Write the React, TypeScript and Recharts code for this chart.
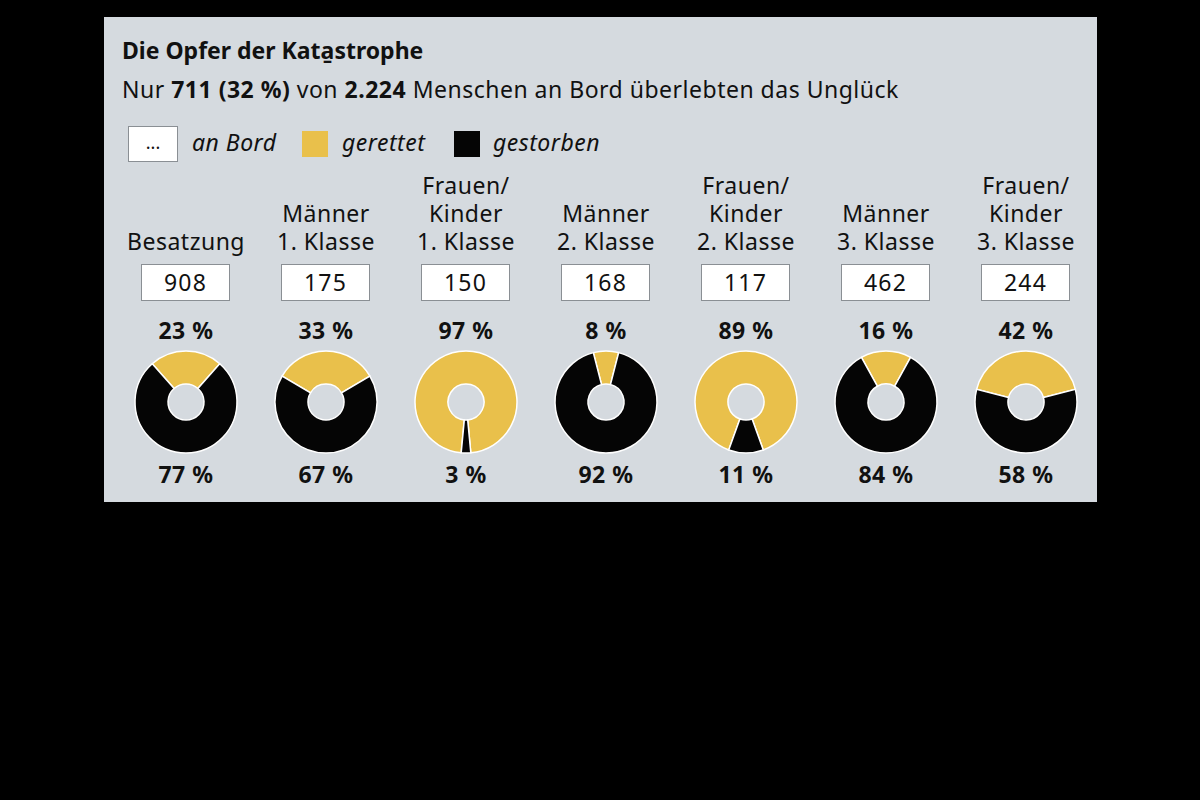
import { Cell, Pie, PieChart } from 'recharts';

const groupLabels: string[][] = [
  ['Besatzung'],
  ['Männer', '1. Klasse'],
  ['Frauen/', 'Kinder', '1. Klasse'],
  ['Männer', '2. Klasse'],
  ['Frauen/', 'Kinder', '2. Klasse'],
  ['Männer', '3. Klasse'],
  ['Frauen/', 'Kinder', '3. Klasse'],
];
const aboard = [908, 175, 150, 168, 117, 462, 244];
const savedPct = [23, 33, 97, 8, 89, 16, 42];
const diedPct = [77, 67, 3, 92, 11, 84, 58];

const YELLOW = '#e9c04b';
const BLACK = '#050505';
const PANEL = '#d5dadf';
const FONT = '"Noto Sans", "Open Sans", sans-serif';

const PANEL_W = 993;
const PANEL_H = 485;
const COL0 = 82;
const COL_STEP = 140;
const DONUT_Y = 385;

function App() {
  return (
    <div style={{ position: 'absolute', left: 0, top: 0, width: 1200, height: 800, background: '#000' }}>
      <div
        style={{
          position: 'absolute',
          left: 104,
          top: 17,
          width: PANEL_W,
          height: PANEL_H,
          background: PANEL,
          fontFamily: FONT,
          color: '#111',
        }}
      >
        <div style={{ position: 'absolute', left: 18, top: 17, fontSize: 23, fontWeight: 700 }}>
          Die Opfer der Kata̱strophe
        </div>
        <div style={{ position: 'absolute', left: 18, top: 56, fontSize: 23, letterSpacing: 0.5 }}>
          Nur <b>711 (32 %)</b> von <b>2.224</b> Menschen an Bord überlebten das Unglück
        </div>

        {/* legend */}
        <div
          style={{
            position: 'absolute',
            left: 24,
            top: 109,
            width: 48,
            height: 34,
            background: '#fff',
            border: '1px solid #8a8f94',
            textAlign: 'center',
            fontSize: 18,
            lineHeight: '30px',
          }}
        >
          ...
        </div>
        <div style={{ position: 'absolute', left: 88, top: 109, fontSize: 23, fontStyle: 'italic', letterSpacing: 0.5 }}>
          an Bord
        </div>
        <div style={{ position: 'absolute', left: 198, top: 114, width: 26, height: 26, background: YELLOW }} />
        <div style={{ position: 'absolute', left: 238, top: 109, fontSize: 23, fontStyle: 'italic', letterSpacing: 0.5 }}>
          gerettet
        </div>
        <div style={{ position: 'absolute', left: 350, top: 114, width: 26, height: 26, background: BLACK }} />
        <div style={{ position: 'absolute', left: 389, top: 109, fontSize: 23, fontStyle: 'italic', letterSpacing: 0.5 }}>
          gestorben
        </div>

        {groupLabels.map((lines, i) => {
          const cx = COL0 + i * COL_STEP;
          return (
            <div key={i}>
              <div
                style={{
                  position: 'absolute',
                  left: cx - 70,
                  width: 140,
                  bottom: PANEL_H - 238,
                  textAlign: 'center',
                  fontSize: 23,
                  lineHeight: '28px',
                  letterSpacing: 0.5,
                }}
              >
                {lines.map((l) => (
                  <div key={l}>{l}</div>
                ))}
              </div>
              <div
                style={{
                  position: 'absolute',
                  left: cx - 45,
                  top: 247,
                  width: 87,
                  height: 35,
                  background: '#fff',
                  border: '1px solid #8a8f94',
                  textAlign: 'center',
                  fontSize: 23,
                  letterSpacing: 1.2,
                  lineHeight: '35px',
                }}
              >
                {aboard[i]}
              </div>
              <div
                style={{
                  position: 'absolute',
                  left: cx - 60,
                  width: 120,
                  top: 297,
                  textAlign: 'center',
                  fontSize: 23,
                  fontWeight: 700,
                  letterSpacing: 0.5,
                }}
              >
                {savedPct[i]} %
              </div>
              <div
                style={{
                  position: 'absolute',
                  left: cx - 60,
                  width: 120,
                  top: 441,
                  textAlign: 'center',
                  fontSize: 23,
                  fontWeight: 700,
                  letterSpacing: 0.5,
                }}
              >
                {diedPct[i]} %
              </div>
            </div>
          );
        })}

        <div style={{ position: 'absolute', left: 0, top: 0 }}>
          <PieChart width={PANEL_W} height={PANEL_H} margin={{ top: 0, right: 0, bottom: 0, left: 0 }}>
            {savedPct.map((p, i) => {
              const data = [
                { name: 'gerettet', value: p },
                { name: 'gestorben', value: diedPct[i] },
              ];
              const start = 90 + (p / 100) * 180;
              return (
                <Pie
                  key={i}
                  data={data}
                  dataKey="value"
                  cx={COL0 + i * COL_STEP}
                  cy={DONUT_Y}
                  innerRadius={18}
                  outerRadius={51}
                  startAngle={start}
                  endAngle={start - 360}
                  stroke="#fff"
                  strokeWidth={1.5}
                  isAnimationActive={false}
                >
                  <Cell fill={YELLOW} />
                  <Cell fill={BLACK} />
                </Pie>
              );
            })}
          </PieChart>
        </div>
      </div>
    </div>
  );
}

export default App;
